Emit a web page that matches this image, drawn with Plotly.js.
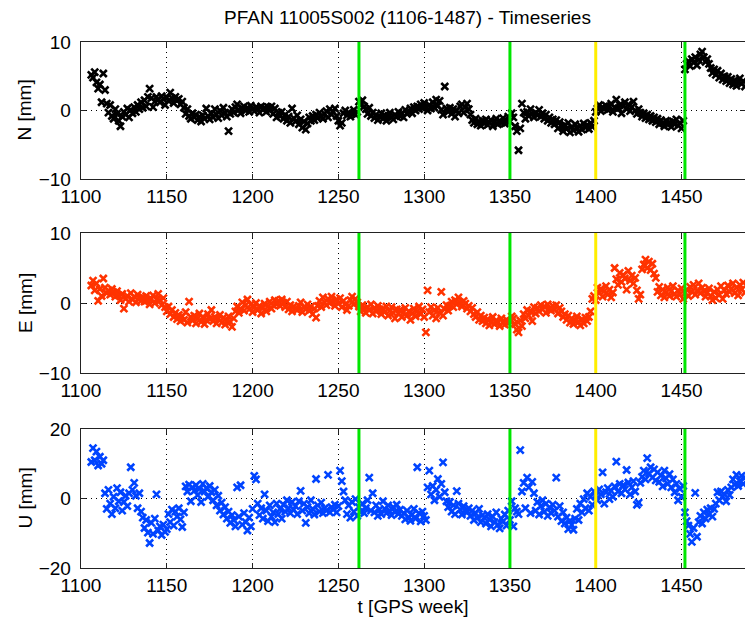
<!DOCTYPE html>
<html>
<head>
<meta charset="utf-8">
<script src="https://cdn.plot.ly/plotly-3.0.1.min.js"></script>
<style>html,body{margin:0;padding:0;background:#fff;}#chart{width:745px;height:625px;}</style>
</head>
<body>
<div id="chart"></div>
<script>
// ---- data ----
const firstWeek = 1106;   // from title (1106-1487)
const lastWeek = 1487;

const northMm = [
  5.2, 4.8, 5.6, 4.1, 3.2, 3.8, 1.2, 5.4, 3.0, 1.0,
  -0.3, 0.8, -0.8, -1.2, 0.2, -0.5, -1.5, -2.3, -0.9, -0.2,
  -0.6, 0.3, -1.0, 0.1, -0.4, 0.5, -0.2, 0.8, 0.2, 1.2,
  0.4, 1.5, 0.6, 2.0, 3.2, 1.8, 0.5, 1.3, 2.0, 1.6,
  1.2, 2.1, 1.7, 0.8, 1.9, 1.4, 2.6, 1.8, 1.1, 2.0,
  1.5, 1.7, 0.9, 1.3, 0.4, -0.5, 0.2, -0.8, -1.2, -0.4,
  -1.0, -0.6, -1.4, -0.9, -1.6, -0.7, -1.2, 0.3, -0.8, -1.3,
  -0.4, -1.0, 0.2, -0.6, -1.1, 0.0, -0.7, 0.4, -0.3, -0.9,
  -3.0, -0.5, 0.2, -0.3, 0.5, 0.9, 0.1, -0.4, 0.3, 0.6,
  0.0, 0.4, -0.2, 0.7, 0.2, -0.1, 0.5, 0.3, -0.3, 0.6,
  0.1, 0.4, -0.2, 0.5, 0.0, 0.6, -0.5, 0.3, -1.0, -0.3,
  -0.8, -0.2, -1.2, -0.6, -1.5, -0.9, -1.8, 0.3, -1.1, -1.6,
  -0.7, -2.0, -1.3, -2.5, -1.6, -2.8, -1.9, -1.0, -1.5, -0.8,
  -1.4, -0.6, -1.1, -0.3, -0.9, -1.2, -0.5, -0.1, -1.0, 0.2,
  -0.6, -0.2, 0.3, -0.8, -1.5, -2.2, -1.8, -0.4, 0.0, -0.7,
  -0.3, -0.9, -0.5, 0.1, -0.6, -0.2, 1.3, 0.8, 1.5, 0.6,
  0.2, -0.5, 0.4, -0.8, -0.3, -1.1, -0.6, -1.4, -0.9, -0.4,
  -1.2, -0.7, -1.5, -0.8, -0.3, -1.0, -1.3, -0.6, -0.9, -0.2,
  -0.8, -0.4, -1.0, 0.1, -0.5, -0.2, 0.3, -0.4, 0.5, 0.0,
  0.6, 0.2, 0.9, 0.4, 1.1, 0.5, 0.0, 0.8, 0.3, 1.2,
  0.4, 1.6, 0.7, 1.4, 0.1, -0.6, 3.5, 0.3, -0.2, 0.4,
  -0.5, 0.2, -0.9, 0.0, -0.4, 0.6, 0.9, -0.3, 0.5, 1.0,
  0.2, -0.6, -1.4, -1.8, -1.2, -2.0, -1.6, -2.2, -1.5, -1.9,
  -1.3, -2.1, -1.7, -1.4, -2.3, -1.6, -1.2, -2.0, -1.5, -1.8,
  -1.1, -1.9, -1.4, -0.9, -1.6, -0.4, -1.0, -2.3, -3.0, -5.8,
  -2.6, 1.0, -0.3, -1.2, -0.2, -0.8, 0.2, -0.5, -1.0, -0.3,
  -0.7, 0.1, -0.9, -0.4, -1.2, -0.6, -1.5, -1.0, -1.8, -1.3,
  -2.0, -1.4, -2.6, -1.7, -2.3, -3.0, -2.1, -2.7, -1.8, -3.2,
  -2.4, -2.9, -2.0, -2.6, -3.1, -2.2, -2.8, -1.9, -2.5, -2.1,
  -2.7, -1.8, -2.4, -1.5, -0.2, 0.3, 0.8, -0.1, 0.5, 0.2,
  0.7, 0.1, 0.6, 1.0, -0.2, 0.4, 1.6, 0.3, 0.8, -0.4,
  0.6, 1.2, 0.2, 0.9, -0.1, 0.5, 1.3, 0.0, -0.5, 0.2,
  -0.3, -0.9, -0.4, -1.1, -0.6, -1.3, -0.8, -1.5, -1.0, -1.7,
  -1.2, -2.0, -1.4, -1.8, -2.3, -1.5, -2.1, -1.7, -2.4, -1.6,
  -2.0, -1.3, -2.2, -1.8, -2.6, -1.5, 6.0, 6.8, 7.2, 6.5,
  7.5, 7.0, 7.8, 6.6, 7.4, 8.2, 8.6, 7.8, 7.1, 7.5,
  6.8, 6.2, 5.5, 6.0, 5.2, 5.8, 4.8, 5.4, 4.5, 5.0,
  4.3, 4.9, 4.0, 4.6, 3.8, 4.4, 3.6, 4.2, 4.7, 3.9,
  4.3, 3.5
];

const eastMm = [
  2.5, 3.2, 1.8, 2.8, 0.3, 2.0, 1.0, 3.5, 2.2, 1.4,
  1.8, 1.2, 2.0, 1.5, 0.9, 1.7, 1.1, 0.4, 1.3, -0.8,
  0.6, 1.0, 0.2, 1.4, 0.5, 0.9, 0.1, 1.2, 0.7, 0.3,
  0.8, 0.2, 1.0, 0.4, -0.2, 0.6, 1.1, 0.0, 0.5, 1.3,
  0.4, -0.3, 0.7, -0.6, -1.2, -0.5, -1.6, -1.0, -2.0, -1.4,
  -2.3, -1.7, -2.6, -1.9, -2.4, -1.3, -2.8, 0.2, -2.0, -2.5,
  -1.8, -2.9, -2.2, -1.5, -2.7, -2.0, -3.0, -2.4, -1.6, -2.3,
  -1.0, -2.6, -2.0, -2.9, -2.3, -1.7, -2.8, -2.1, -3.1, -2.5,
  -1.9, -2.7, -3.4, -2.2, -1.2, -0.5, -1.4, -0.8, 0.1, -1.1,
  -0.3, 0.5, -0.9, -0.2, -1.3, -0.6, 0.0, -1.0, -0.4, -1.5,
  -0.7, -0.1, -1.2, -0.5, 0.2, -0.8, -0.3, 0.4, -0.2, 0.3,
  -0.4, 0.5, 0.0, -0.6, 0.2, -0.9, -0.3, -1.2, -0.5, -0.8,
  -1.0, -0.4, 0.1, -1.3, -0.6, -0.9, -0.2, -1.1, -0.5, -1.6,
  -0.8, -2.1, -0.4, 0.3, -0.6, 0.8, 0.1, -0.3, 0.6, 0.0,
  0.9, 0.2, -0.4, 0.5, -0.1, 0.7, -0.6, 0.3, -0.2, -1.0,
  -0.4, 0.4, 0.9, -0.2, 0.6, 0.1, -0.5, -1.2, -0.3, -0.8,
  -1.4, -0.6, -1.0, -0.2, -1.5, -0.7, -1.2, -0.4, -0.9, -1.6,
  -0.8, -1.3, -0.5, -1.8, -1.1, -0.6, -1.4, -2.2, -0.9, -1.5,
  -1.0, -2.0, -1.3, -0.7, -1.8, -1.2, -2.4, -1.5, -0.8, -1.9,
  -1.2, -0.5, -1.6, -0.9, -2.0, -4.2, 1.8, -1.3, -0.6, -1.8,
  -1.0, -2.2, -0.7, -1.4, 1.6, -1.8, -0.9, -0.3, -1.1, -0.4,
  0.2, -0.6, 0.4, -0.2, 0.8, 0.1, -0.5, 0.3, -0.1, -0.8,
  -0.4, -1.2, -0.7, -1.6, -2.0, -1.3, -2.4, -1.8, -2.6, -2.1,
  -2.9, -2.3, -3.2, -2.7, -2.0, -3.0, -2.5, -2.8, -3.3, -2.2,
  -2.7, -3.1, -2.4, -2.9, -2.6, -1.9, -2.2, -3.0, -3.8, -4.2,
  -2.5, -3.3, -1.6, -2.2, -1.0, -1.8, -1.2, -2.6, -0.6, -1.5,
  -0.7, -1.2, -0.3, -0.9, -0.5, -1.4, -0.2, -0.8, -1.1, -0.4,
  -0.9, -0.3, -1.5, -0.7, -1.2, -2.0, -1.6, -2.4, -1.8, -2.8,
  -2.2, -3.0, -2.5, -1.9, -2.7, -3.2, -2.3, -2.9, -2.1, -2.6,
  -2.0, -1.2, 0.6, 1.0, 0.4, 2.2, 1.4, 2.0, 0.9, 1.7,
  2.4, 1.2, 1.9, 0.8, 1.5, 5.0, 3.4, 2.6, 4.3, 3.0,
  4.0, 3.5, 1.9, 4.6, 3.2, 3.9, 2.8, 3.6, 1.8, 0.6,
  1.2, 4.8, 5.5, 6.2, 5.0, 5.9, 4.7, 5.6, 4.2, 3.6,
  1.6, 2.3, 1.1, 1.9, 0.8, 1.5, 2.2, 1.0, 1.7, 2.4,
  1.3, 0.9, 1.8, 1.2, 2.1, 0.6, 1.4, 1.9, 1.0, 2.3,
  1.6, 2.6, 1.2, 1.8, 2.8, 1.4, 2.2, 1.7, 0.9, 1.5,
  2.1, 1.0, 0.4, 1.6, 0.7, 1.9, 1.2, 2.4, 0.6, 1.8,
  1.3, 2.5, 1.6, 2.0, 2.8, 1.4, 2.2, 1.1, 2.6, 1.9,
  2.9, 1.5
];

const upMm = [
  10.5, 14.5, 11.0, 13.5, 9.5, 12.0, 10.0, 11.0, 1.5, -3.0,
  2.5, -1.5, -4.5, 0.5, -2.8, 3.0, -0.8, 1.8, -3.5, -1.0,
  0.8, -2.2, 1.5, 9.0, 2.5, 4.5, 0.8, -2.8, 1.5, -3.8,
  -5.5, -8.5, -6.2, -9.8, -12.8, -7.0, -10.2, -5.8, 1.2, -9.2,
  -8.0, -10.5, -7.5, -9.6, -8.8, -4.5, -6.8, -3.2, -7.8, -3.8,
  -5.2, -2.8, -6.0, -8.2, -4.0, 3.5, 2.0, 4.0, -0.8, 3.2,
  2.2, 3.8, 1.0, 2.8, -1.0, 4.2, 2.0, 3.0, 0.5, 3.6,
  1.8, -0.5, 2.5, -2.0, 0.8, -3.5, -1.2, -4.6, -2.5, -5.8,
  -3.8, -7.0, -4.8, -6.2, -8.0, 3.2, -5.2, 3.8, -7.5, -4.2,
  -6.8, -9.2, -5.5, -8.0, -3.0, 6.5, 5.5, -1.5, -4.8, -2.8,
  -5.8, 1.2, -3.5, -6.5, -2.0, -5.2, -4.0, -6.8, -1.5, -4.5,
  -3.0, -5.8, -1.8, -3.8, -0.5, -2.8, -4.2, -1.0, -3.2, -2.2,
  -4.5, -0.8, 2.2, -3.5, -1.5, -7.0, -2.5, -4.2, -0.5, -3.0,
  -4.6, 5.6, -2.0, -3.8, -1.2, -4.2, -2.8, -3.5, 6.8, -4.0,
  -2.5, -3.2, -1.8, -4.0, -2.2, 8.0, 5.0, 2.0, -0.5, -4.5,
  -2.0, -5.5, -1.0, -3.8, -0.2, -5.0, -2.5, -3.8, -1.5, -4.2,
  -2.8, -0.5, 6.0, -3.5, 1.5, -4.0, -2.0, -5.0, -3.2, -4.5,
  -0.8, -3.0, -4.2, -2.0, -3.6, -4.8, -2.5, -3.9, -1.8, -4.4,
  -3.2, -5.0, -4.2, -6.0, -3.5, -5.4, -6.4, -4.6, -3.0, -5.8,
  9.0, -4.2, -6.6, -3.8, -5.0, -6.2, 3.2, 8.0, 1.2, 3.6,
  -0.5, 2.5, 5.6, 0.5, 4.2, 10.4, 1.8, -0.8, -2.5, -1.0,
  -3.8, -2.0, -4.5, 2.1, -1.5, -3.2, -4.6, -2.2, -3.6, -4.0,
  -2.8, -5.0, -3.5, -6.2, -4.2, -5.6, -3.0, -6.8, -4.8, -5.5,
  -7.2, -4.5, -6.0, -8.0, -5.2, -6.8, -4.0, -7.5, -8.6, -5.8,
  -6.6, -4.6, -7.8, -3.5, -6.2, -0.8, -8.0, -2.8, -3.8, -4.5,
  13.9, 2.0, 4.5, -2.8, 6.0, 3.2, -4.2, 4.8, 1.5, -3.5,
  -1.0, -4.6, -2.2, -0.5, -3.8, -1.5, -5.0, -2.6, -4.2, -1.8,
  -3.5, 6.0, -5.2, -2.2, -6.5, -4.0, -7.2, -5.5, -8.8, -6.4,
  -7.6, -9.0, -5.8, -3.0, -6.2, -1.5, -4.0, -0.2, -2.8, 1.5,
  -3.5, 0.5, -1.8, 2.0, 0.8, -0.5, 2.6, 1.2, 7.5, -1.5,
  1.8, 3.0, -0.2, 2.2, 0.5, 3.5, 10.6, 2.0, 4.2, 1.5,
  3.8, 2.6, 8.2, 4.6, 1.2, 3.2, 5.0, 2.0, -1.8, -1.2,
  4.5, 6.2, 8.0, 5.5, 11.6, 7.2, 9.0, 6.0, 8.4, 5.2,
  7.5, 4.8, 6.6, 3.5, 8.0, 5.8, 4.2, 7.0, 3.2, 5.5,
  1.8, 4.2, -0.5, 2.8, 0.5, 3.6, -4.0, -6.5, -7.8, -10.2,
  -12.5, -8.5, 1.6, -11.0, -6.8, -5.0, -7.2, -4.0, -5.8, -3.2,
  -4.6, -2.8, -5.2, -3.0, -1.5, 1.8, -0.5, 2.0, 0.5, 1.2,
  -0.8, 2.5, 1.0, 3.2, 5.5, 4.0, 6.8, 3.6, 5.0, 6.5,
  4.2, 6.0
];

// event markers (GPS week)
const greenWeeks = [1262, 1350, 1452];
const yellowWeeks = [1400];

const xTicks = [1100, 1150, 1200, 1250, 1300, 1350, 1400, 1450];
const panelNames = ['N [mm]', 'E [mm]', 'U [mm]'];
const panelRanges = [[-10, 10], [-10, 10], [-20, 20]];
const panelTicks = [[-10, 0, 10], [-10, 0, 10], [-20, 0, 20]];

// ---- build ----
const weeks = [];
for (let w = firstWeek; w <= lastWeek; w++) weeks.push(w);

const series = [northMm, eastMm, upMm];
const colors = ['#000000', '#FF3300', '#0044FF'];
const FONT = 'Liberation Sans, Arial, Helvetica, sans-serif';
const FS = 19;

const traces = series.map((vals, i) => ({
  type: 'scatter', mode: 'markers',
  x: weeks.slice(0, vals.length), y: vals,
  xaxis: i === 0 ? 'x' : 'x' + (i + 1),
  yaxis: i === 0 ? 'y' : 'y' + (i + 1),
  marker: { symbol: 'x-thin', size: 7, color: colors[i], line: { color: colors[i], width: 2.6 } },
  hoverinfo: 'x+y', showlegend: false
}));

const domains = [[0.7395, 1.0], [0.3707, 0.6369], [0.0, 0.2643]];

const layout = {
  width: 745, height: 625,
  margin: { l: 81, r: 0, t: 42, b: 57 },
  paper_bgcolor: '#fff', plot_bgcolor: '#fff',
  font: { family: FONT, size: FS, color: '#000' },
  title: { text: 'PFAN 11005S002 (1106-1487) - Timeseries', x: 0.547, xanchor: 'center', xref: 'container', y: 0.973, yanchor: 'middle', yref: 'container', font: { family: FONT, size: FS, color: '#000' } },
  shapes: [],
  annotations: []
};

for (let i = 0; i < 3; i++) {
  const xk = i === 0 ? 'xaxis' : 'xaxis' + (i + 1);
  const yk = i === 0 ? 'yaxis' : 'yaxis' + (i + 1);
  const yref = i === 0 ? 'y' : 'y' + (i + 1);
  const xref = i === 0 ? 'x' : 'x' + (i + 1);
  layout[xk] = {
    domain: [0, 1], anchor: yref, range: [1100, lastWeek],
    tickvals: xTicks, ticks: 'inside', ticklen: 5, tickcolor: '#222', tickwidth: 1,
    showline: true, linecolor: '#222', linewidth: 1.3, mirror: 'ticks',
    showgrid: true, gridcolor: '#000', gridwidth: 1, griddash: '1px,4px',
    zeroline: false, tickfont: { family: FONT, size: FS, color: '#000' },
    ticklabelstandoff: 0
  };
  if (i === 2) layout[xk].title = { text: 't [GPS week]', font: { family: FONT, size: FS, color: '#000' }, standoff: 2 };
  layout[yk] = {
    domain: domains[i], anchor: xref, range: panelRanges[i],
    tickvals: panelTicks[i], ticks: 'inside', ticklen: 5, tickcolor: '#222', tickwidth: 1,
    showline: true, linecolor: '#222', linewidth: 1.3, mirror: 'ticks',
    showgrid: true, gridcolor: '#000', gridwidth: 1, griddash: '1px,4px',
    zeroline: false, tickfont: { family: FONT, size: FS, color: '#000' },
    ticklabelstandoff: 5
  };
  layout.annotations.push({
    text: panelNames[i], textangle: -90, showarrow: false,
    xref: 'paper', x: 0, xanchor: 'center', xshift: -56,
    yref: yref + ' domain', y: 0.5, yanchor: 'middle',
    font: { family: FONT, size: FS, color: '#000' }
  });
  greenWeeks.forEach(w => layout.shapes.push({ type: 'line', xref: xref, yref: yref + ' domain', x0: w, x1: w, y0: 0, y1: 1, line: { color: '#00E600', width: 3 }, layer: 'above' }));
  yellowWeeks.forEach(w => layout.shapes.push({ type: 'line', xref: xref, yref: yref + ' domain', x0: w, x1: w, y0: 0, y1: 1, line: { color: '#FFEE00', width: 3 }, layer: 'above' }));
}

Plotly.newPlot('chart', traces, layout, { displayModeBar: false, staticPlot: true });
</script>
</body>
</html>
